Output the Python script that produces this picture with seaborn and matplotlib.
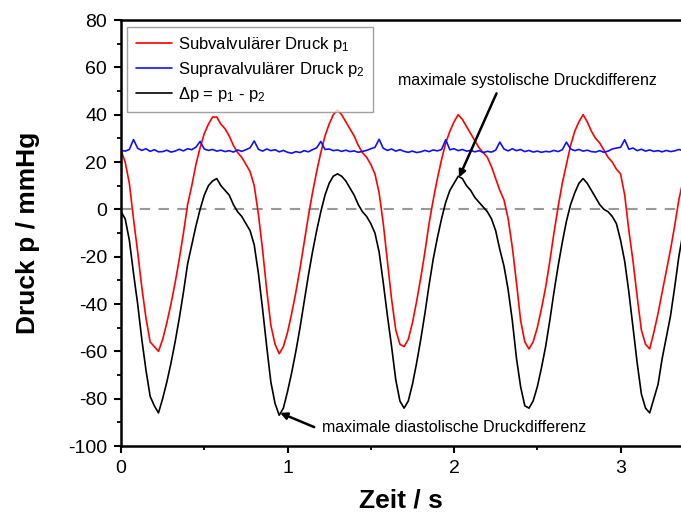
import numpy as np
import pandas as pd
import matplotlib
matplotlib.use("Agg")
import matplotlib.pyplot as plt
import seaborn as sns

zeit_step = 0.025
p1_subvalvulaer = [25, 20, 11, -4, -18, -33, -46, -56, -58, -60,
                   -55, -48, -40, -31, -21, -10, 2, 10, 19, 26,
                   32, 36, 39, 39, 36, 34, 31, 27, 24, 22,
                   19, 16, 10, -2, -17, -34, -49, -57, -61, -58,
                   -52, -44, -35, -25, -14, -3, 7, 16, 24, 31,
                   36, 40, 42, 40, 37, 34, 31, 27, 24, 22,
                   19, 15, 7, -6, -22, -38, -51, -57, -58, -55,
                   -48, -39, -29, -18, -6, 4, 13, 21, 28, 33,
                   37, 40, 38, 35, 32, 29, 26, 24, 22, 18,
                   13, 8, 4, -4, -16, -31, -47, -56, -59, -56,
                   -50, -42, -33, -22, -10, 1, 11, 19, 27, 33,
                   37, 40, 37, 33, 30, 28, 25, 22, 20, 17,
                   15, 6, -9, -22, -37, -51, -57, -59, -52, -44,
                   -35, -26, -17, -7, 4, 12]
p2_supravalvulaer = [25.0, 24.6, 25.3, 29.5, 25.8, 24.9, 25.6, 24.5, 25.2, 24.3,
                     24.4, 25.0, 24.2, 24.6, 25.4, 24.7, 25.6, 25.2, 26.3, 28.7,
                     25.5, 24.9, 25.3, 24.6, 25.0, 24.4, 24.8, 24.2, 25.1, 24.5,
                     25.2, 26.0, 28.9, 25.4, 24.6, 25.5, 24.8, 25.2, 24.3, 24.9,
                     24.1, 23.7, 24.4, 24.0, 24.8, 24.3, 25.2, 26.0, 28.7, 25.3,
                     25.5, 24.8, 25.1, 24.5, 25.0, 24.4, 24.7, 24.1, 24.5, 24.9,
                     25.6, 26.2, 29.6, 25.8, 24.9, 25.5, 24.6, 25.2, 24.5, 24.1,
                     24.6, 24.0, 24.3, 24.9, 24.4, 25.1, 24.7, 25.3, 29.4, 25.2,
                     25.6, 24.8, 25.3, 24.6, 24.9, 24.3, 24.8, 24.0, 24.5, 24.2,
                     25.0, 28.4, 25.5, 24.7, 25.6, 24.8, 25.3, 24.4, 24.9, 24.2,
                     24.6, 24.1, 24.5, 24.3, 24.9, 24.4, 25.2, 28.4, 25.5, 24.8,
                     25.3, 24.6, 25.0, 24.4, 24.2, 24.8, 24.1, 24.6, 25.5, 25.9,
                     26.2, 29.4, 25.4, 25.9, 24.8, 25.4, 24.6, 25.1, 24.5, 24.8,
                     24.3, 24.9, 24.4, 24.7, 25.3, 24.8]
delta_p = [-1, -4, -13, -27, -40, -55, -68, -79, -83, -86,
           -80, -73, -65, -56, -46, -35, -23, -15, -7, 0,
           6, 10, 12, 13, 10, 8, 6, 2, -1, -3,
           -6, -9, -15, -27, -42, -58, -73, -82, -87, -84,
           -77, -69, -60, -50, -39, -28, -18, -9, -1, 6,
           11, 14, 15, 14, 12, 9, 6, 2, -1, -3,
           -6, -10, -18, -31, -45, -58, -72, -81, -84, -81,
           -74, -65, -55, -44, -32, -21, -12, -4, 3, 8,
           11, 14, 13, 10, 8, 5, 3, 1, -1, -4,
           -9, -17, -24, -34, -47, -63, -75, -83, -84, -81,
           -75, -67, -58, -47, -35, -24, -14, -5, 2, 7,
           11, 13, 11, 8, 5, 2, 0, -1, -3, -6,
           -13, -22, -35, -50, -65, -78, -84, -86, -80, -74,
           -63, -54, -45, -33, -20, -10]
zeit = np.arange(len(p1_subvalvulaer)) * zeit_step

labels = ["Subvalvulärer Druck p$_1$", "Supravalvulärer Druck p$_2$", "Δp = p$_1$ - p$_2$"]
colors = ["#ff0000", "#1010ff", "#000000"]

df = pd.DataFrame({"zeit": zeit, "p1": p1_subvalvulaer, "p2": p2_supravalvulaer, "dp": delta_p})

sns.set_style("ticks")
plt.rcParams["font.family"] = ["Liberation Sans", "DejaVu Sans"]
plt.rcParams["mathtext.fontset"] = "custom"
plt.rcParams["mathtext.rm"] = "Liberation Sans"
plt.rcParams["mathtext.it"] = "Liberation Sans:italic"
plt.rcParams["axes.unicode_minus"] = False
plt.rcParams["text.color"] = "black"
plt.rcParams["axes.labelcolor"] = "black"
plt.rcParams["xtick.color"] = "black"
plt.rcParams["ytick.color"] = "black"

fig = plt.figure(figsize=(6.81, 5.17), dpi=100)
ax = fig.add_axes([0.1777, 0.1373, 0.8223, 0.824])

for col, lab, c in zip(["p1", "p2", "dp"], labels, colors):
    sns.lineplot(data=df, x="zeit", y=col, color=c, lw=1.2, label=lab, ax=ax)

ax.axhline(0, color="#999999", lw=1.5, ls=(0, (5, 4)), zorder=0)

ax.set_xlim(0, 3.363)
ax.set_ylim(-100, 80)
ax.set_xticks([0, 1, 2, 3])
ax.set_xticks([0.5, 1.5, 2.5], minor=True)
ax.set_yticks(np.arange(-100, 81, 20))
ax.set_yticks(np.arange(-90, 80, 20), minor=True)
ax.tick_params(which="major", direction="out", length=5, width=1.5, labelsize=14, pad=5,
               color="black", labelcolor="black")
ax.tick_params(which="minor", direction="out", length=3, width=1.3, color="black")
ax.tick_params(top=False, right=False)

for side in ["left", "bottom", "top"]:
    ax.spines[side].set_linewidth(1.8)
    ax.spines[side].set_color("black")
ax.spines["right"].set_visible(False)

ax.set_xlabel("Zeit / s", fontsize=19, fontweight="bold", labelpad=8, color="black")
ax.set_ylabel("Druck p / mmHg", fontsize=19, fontweight="bold", labelpad=20, color="black")

# Beschriftungen
ax.text(2.44, 54.5, "maximale systolische Druckdifferenz", fontsize=11.5, ha="center", va="center")
ax.annotate("", xy=(2.03, 13.5), xytext=(2.255, 49),
            arrowprops=dict(arrowstyle="-|>", lw=1.8, color="black", mutation_scale=10, shrinkA=0, shrinkB=0))
ax.text(1.207, -92, "maximale diastolische Druckdifferenz", fontsize=11.5, ha="left", va="center")
ax.annotate("", xy=(0.955, -86), xytext=(1.16, -92),
            arrowprops=dict(arrowstyle="-|>", lw=1.8, color="black", mutation_scale=10, shrinkA=0, shrinkB=0))

leg = ax.legend(loc="upper left", bbox_to_anchor=(0.011, 0.984), borderaxespad=0, fontsize=12,
                frameon=True, fancybox=False, edgecolor="#888888", handlelength=2.2,
                handletextpad=0.35, labelspacing=0.35, borderpad=0.5)
leg.get_frame().set_linewidth(1.0)
for t in leg.get_texts():
    t.set_color("black")

plt.savefig("out.png", dpi=100)
plt.close()
